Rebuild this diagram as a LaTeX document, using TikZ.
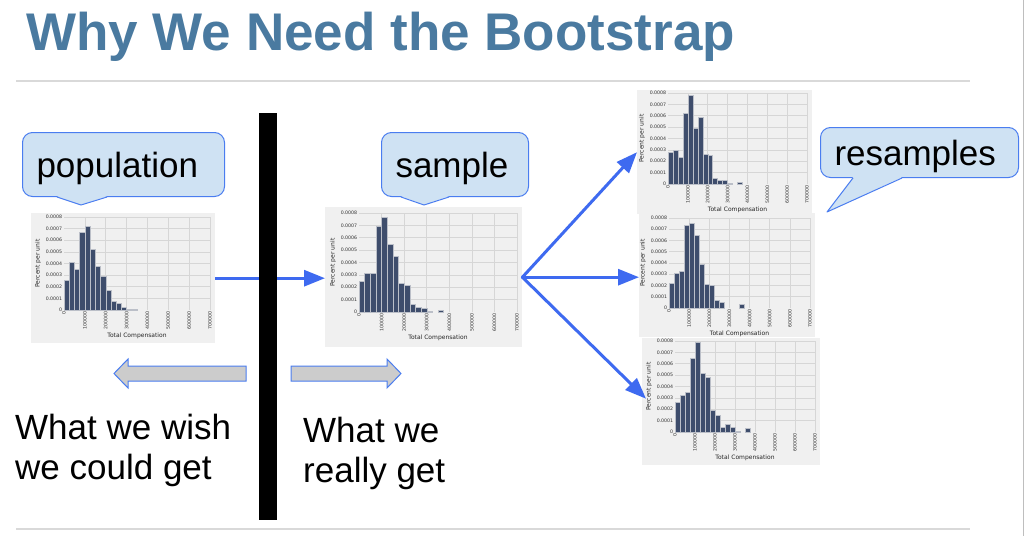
\documentclass[tikz,border=0pt]{standalone}
\usepackage{fontspec}
\setmainfont{Liberation Sans}
\newfontfamily\plotfont{DejaVu Sans}
\usetikzlibrary{arrows.meta,calc}

\definecolor{titleblue}{RGB}{74,122,160}
\definecolor{rulegray}{RGB}{217,217,217}
\definecolor{edgegray}{RGB}{190,190,190}
\definecolor{bubblefill}{RGB}{207,226,243}
\definecolor{bubbleline}{RGB}{74,125,240}
\definecolor{flowblue}{RGB}{62,106,240}
\definecolor{panelgray}{RGB}{240,240,240}
\definecolor{gridgray}{RGB}{214,214,214}
\definecolor{barblue}{RGB}{62,77,108}
\definecolor{blockgray}{RGB}{204,204,204}

\tikzset{
  panel/.style={fill=panelgray, draw=none, anchor=north west, inner sep=0},
  gridline/.style={draw=gridgray, line width=0.6},
  histbar/.style={fill=barblue, draw=panelgray!70!barblue, line width=0.4},
  ytick/.style={font=\plotfont\fontsize{4.7}{5}\selectfont, anchor=east, inner sep=0.6, text=black!80},
  xtick/.style={font=\plotfont\fontsize{4.7}{5}\selectfont, anchor=east, rotate=90, inner sep=0.6, text=black!80},
  axlabel/.style={font=\plotfont\fontsize{6}{7}\selectfont, inner sep=0, text=black!85},
  bubble/.style={draw=bubbleline, fill=bubblefill, line width=1, rounded corners=10,
    inner xsep=14, inner ysep=0, align=left, anchor=north west,
    text height=26, text depth=0,
    font=\fontsize{35}{40}\selectfont},
  pointerfill/.style={fill=bubblefill},
  pointerline/.style={draw=bubbleline, line width=1, line join=round},
  flow/.style={draw=flowblue, line width=3, -{Triangle[length=21pt,width=16pt]}},
  blockarrow/.style={fill=blockgray, draw=bubbleline, line width=1},
  caption/.style={font=\fontsize{35}{40}\selectfont, align=left, anchor=north west, inner sep=0},
}

% histogram: #1 name, #2-#5 plot area (left, top, right, bottom), #6 bar heights in 1e-4 units
\newcommand{\histplot}[6]{%
  \pgfmathsetmacro{\hxu}{(#4-#2)/7}%
  \pgfmathsetmacro{\hyu}{(#5-#3)/8}%
  \foreach \k in {1,...,7}{\draw[gridline] ({#2+\k*\hxu},#3) -- ({#2+\k*\hxu},#5);}
  \foreach \k in {1,...,8}{\draw[gridline] (#2,{#5-\k*\hyu}) -- (#4,{#5-\k*\hyu});}
  \foreach \v [count=\i from 0] in {#6}{%
    \ifdim\v pt>0pt
      \filldraw[histbar] ({#2+\i*\hxu/4},#5) rectangle ({#2+(\i+1)*\hxu/4},{#5-\v*\hyu});
    \fi}
  \foreach \k/\t in {0/0,1/0.0001,2/0.0002,3/0.0003,4/0.0004,5/0.0005,6/0.0006,7/0.0007,8/0.0008}
    {\node[ytick] (#1-y\k) at ({#2-1},{#5-\k*\hyu}) {\t};}
  \foreach \k/\t in {0/0,1/100000,2/200000,3/300000,4/400000,5/500000,6/600000,7/700000}
    {\node[xtick] (#1-x\k) at ({#2+\k*\hxu},{#5+1}) {\t};}
  \node[axlabel, rotate=90] (#1-ylab) at ({#2-26},{(#3+#5)/2}) {Percent per unit};
  \node[axlabel] (#1-xlab) at ({(#2+#4)/2},{#5+26}) {Total Compensation};
}

\begin{document}
\begin{tikzpicture}[x=1pt,y=-1pt]
\useasboundingbox (0,0) rectangle (1026,536);
\fill[white] (0,0) rectangle (1026,536);

% heading and rules
\node[anchor=base west, inner sep=0, font=\fontsize{53}{60}\selectfont\bfseries, text=titleblue]
  (title) at (26,50) {Why We Need the Bootstrap};
\draw[rulegray, line width=2] (16,81) -- (970,81);
\draw[rulegray, line width=2] (16,529) -- (970,529);
\draw[edgegray, line width=1.5] (1023.5,0) -- (1023.5,536);

% histogram panels
\node[panel, minimum width=184, minimum height=130] (pop) at (31,213) {};
\node[panel, minimum width=197, minimum height=140] (sample) at (325,207) {};
\node[panel, minimum width=175, minimum height=124] (r1) at (637,90) {};
\node[panel, minimum width=176, minimum height=124] (r2) at (639,213) {};
\node[panel, minimum width=178, minimum height=127] (r3) at (642,338) {};

\histplot{pop}{64}{217}{210}{310}{2.6,4.1,3.5,6.7,7.2,5.2,3.8,2.9,1.7,0.8,0.6,0.2,0.05,0.03}
\histplot{sample}{359}{213}{517}{312}{2.5,3.1,3.1,6.9,7.7,5.5,4.5,2.3,2.2,0.6,0.4,0.3,0.05,0,0.12}
\histplot{r1}{668}{93}{807}{184}{2.8,3.0,2.4,6.2,7.8,4.9,5.9,2.6,2.5,0.5,0.3,0.3,0.05,0,0.15}
\histplot{r2}{669}{218}{810}{308}{2.2,3.1,3.3,7.4,7.5,6.5,3.9,2.1,2.0,0.7,0.5,0,0,0,0.3}
\histplot{r3}{675}{341}{815}{432}{2.6,3.2,3.5,6.5,7.9,5.2,4.8,1.9,1.5,0.4,0.7,0.4,0.1,0,0.3}

% sampling and resampling arrows
\draw[flow] (pop.east) -- (pop.east -| sample.west);
\draw[flow, line cap=round] (sample.east) -- (r1.west);
\draw[flow, line cap=round] (sample.east) -- (sample.east -| r2.west);
\draw[flow, line cap=round] (sample.east) -- ($(r3.west)+(4,-3)$);

% divider
\fill[black] (259,113) rectangle (277,520);

% speech bubbles
\node[bubble, text width=174, minimum height=64] (popc) at (22,132) {population};
\fill[pointerfill] ($(popc.south west)+(35,-0.8)$) -- ($(popc.south west)+(59,8)$) -- ($(popc.south west)+(85,-0.8)$) -- cycle;
\draw[pointerline] ($(popc.south west)+(35,0)$) -- ($(popc.south west)+(59,8)$) -- ($(popc.south west)+(85,0)$);

\node[bubble, text width=119, minimum height=64] (samplec) at (381,132) {sample};
\fill[pointerfill] ($(samplec.south west)+(20,-0.8)$) -- ($(samplec.south west)+(43,8)$) -- ($(samplec.south west)+(68,-0.8)$) -- cycle;
\draw[pointerline] ($(samplec.south west)+(20,0)$) -- ($(samplec.south west)+(43,8)$) -- ($(samplec.south west)+(68,0)$);

\node[bubble, text width=170, minimum height=50] (resc) at (820,127) {resamples};
\fill[pointerfill] ($(resc.south west)+(33,-0.8)$) -- ($(resc.south west)+(7,34)$) -- ($(resc.south west)+(82,-0.8)$) -- cycle;
\draw[pointerline] ($(resc.south west)+(33,0)$) -- ($(resc.south west)+(7,34)$) -- ($(resc.south west)+(82,0)$);

% direction block arrows
\draw[blockarrow] (246,366) -- (128,366) -- (128,359) -- (114,373.5) -- (128,388) -- (128,381) -- (246,381) -- cycle;
\draw[blockarrow] (291,366) -- (387,366) -- (387,359) -- (401,373.5) -- (387,388) -- (387,381) -- (291,381) -- cycle;

% captions
\node[caption] (wish) at (15,414) {What we wish\\we could get};
\node[caption] (get) at (303,417) {What we\\really get};
\end{tikzpicture}
\end{document}
